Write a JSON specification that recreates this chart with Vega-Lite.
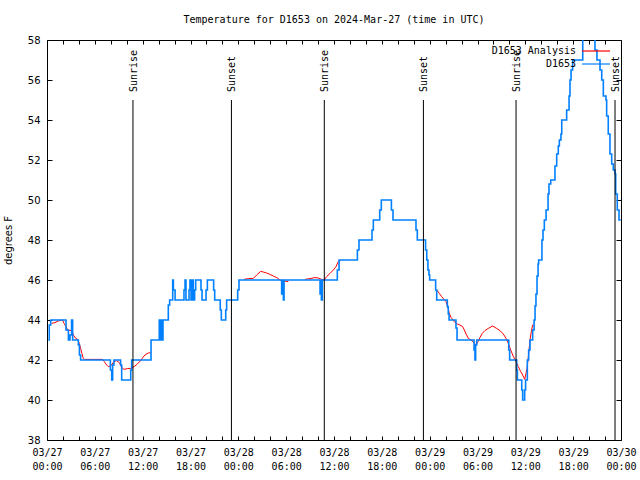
{
  "$schema": "https://vega.github.io/schema/vega-lite/v6.json",
  "width": 574,
  "height": 400,
  "autosize": {"type": "none"},
  "padding": {"left": 47, "top": 40, "right": 19, "bottom": 40},
  "background": "white",
  "title": {"text": "Temperature for D1653 on 2024-Mar-27 (time in UTC)", "font": "DejaVu Sans Mono", "fontSize": 10, "fontWeight": "normal", "color": "black", "offset": 10},
  "config": {
    "view": {"stroke": "black", "strokeWidth": 1},
    "axis": {"grid": false, "domain": false, "tickColor": "black", "labelColor": "black", "titleColor": "black"}
  },
  "datasets": {
    "blue": [
      {"t": "2024-03-27T00:10:00Z", "v": 43.0},
      {"t": "2024-03-27T00:17:00Z", "v": 43.75},
      {"t": "2024-03-27T00:28:00Z", "v": 44.0},
      {"t": "2024-03-27T02:23:00Z", "v": 43.5},
      {"t": "2024-03-27T02:41:00Z", "v": 43.0},
      {"t": "2024-03-27T02:53:00Z", "v": 43.25},
      {"t": "2024-03-27T03:05:00Z", "v": 44.0},
      {"t": "2024-03-27T03:13:00Z", "v": 43.0},
      {"t": "2024-03-27T03:56:00Z", "v": 42.75},
      {"t": "2024-03-27T04:04:00Z", "v": 42.25},
      {"t": "2024-03-27T04:13:00Z", "v": 42.0},
      {"t": "2024-03-27T07:57:00Z", "v": 41.5},
      {"t": "2024-03-27T08:07:00Z", "v": 41.0},
      {"t": "2024-03-27T08:14:00Z", "v": 41.75},
      {"t": "2024-03-27T08:24:00Z", "v": 42.0},
      {"t": "2024-03-27T09:14:00Z", "v": 41.75},
      {"t": "2024-03-27T09:22:00Z", "v": 41.0},
      {"t": "2024-03-27T10:30:00Z", "v": 41.5},
      {"t": "2024-03-27T10:37:00Z", "v": 42.0},
      {"t": "2024-03-27T13:03:00Z", "v": 43.0},
      {"t": "2024-03-27T14:05:00Z", "v": 44.0},
      {"t": "2024-03-27T14:16:00Z", "v": 43.0},
      {"t": "2024-03-27T14:20:00Z", "v": 44.0},
      {"t": "2024-03-27T14:28:00Z", "v": 43.0},
      {"t": "2024-03-27T14:33:00Z", "v": 44.0},
      {"t": "2024-03-27T15:13:00Z", "v": 44.75},
      {"t": "2024-03-27T15:23:00Z", "v": 45.0},
      {"t": "2024-03-27T15:46:00Z", "v": 46.0},
      {"t": "2024-03-27T15:51:00Z", "v": 45.5},
      {"t": "2024-03-27T16:04:00Z", "v": 45.0},
      {"t": "2024-03-27T17:11:00Z", "v": 45.5},
      {"t": "2024-03-27T17:19:00Z", "v": 46.0},
      {"t": "2024-03-27T17:26:00Z", "v": 45.0},
      {"t": "2024-03-27T17:49:00Z", "v": 45.5},
      {"t": "2024-03-27T17:56:00Z", "v": 46.0},
      {"t": "2024-03-27T18:04:00Z", "v": 45.0},
      {"t": "2024-03-27T18:14:00Z", "v": 46.0},
      {"t": "2024-03-27T18:21:00Z", "v": 45.0},
      {"t": "2024-03-27T18:31:00Z", "v": 45.5},
      {"t": "2024-03-27T18:39:00Z", "v": 46.0},
      {"t": "2024-03-27T19:19:00Z", "v": 45.5},
      {"t": "2024-03-27T19:27:00Z", "v": 45.0},
      {"t": "2024-03-27T19:57:00Z", "v": 45.5},
      {"t": "2024-03-27T20:07:00Z", "v": 46.0},
      {"t": "2024-03-27T20:54:00Z", "v": 45.5},
      {"t": "2024-03-27T21:02:00Z", "v": 45.0},
      {"t": "2024-03-27T21:44:00Z", "v": 44.5},
      {"t": "2024-03-27T21:52:00Z", "v": 44.0},
      {"t": "2024-03-27T22:25:00Z", "v": 44.5},
      {"t": "2024-03-27T22:32:00Z", "v": 45.0},
      {"t": "2024-03-27T23:55:00Z", "v": 45.5},
      {"t": "2024-03-28T00:05:00Z", "v": 46.0},
      {"t": "2024-03-28T05:26:00Z", "v": 45.3},
      {"t": "2024-03-28T05:34:00Z", "v": 46.0},
      {"t": "2024-03-28T05:39:00Z", "v": 45.0},
      {"t": "2024-03-28T05:44:00Z", "v": 46.0},
      {"t": "2024-03-28T10:15:00Z", "v": 45.3},
      {"t": "2024-03-28T10:20:00Z", "v": 46.0},
      {"t": "2024-03-28T10:25:00Z", "v": 45.0},
      {"t": "2024-03-28T10:32:00Z", "v": 46.0},
      {"t": "2024-03-28T12:25:00Z", "v": 46.5},
      {"t": "2024-03-28T12:38:00Z", "v": 47.0},
      {"t": "2024-03-28T14:56:00Z", "v": 47.5},
      {"t": "2024-03-28T15:08:00Z", "v": 48.0},
      {"t": "2024-03-28T16:46:00Z", "v": 48.5},
      {"t": "2024-03-28T16:56:00Z", "v": 49.0},
      {"t": "2024-03-28T17:44:00Z", "v": 49.5},
      {"t": "2024-03-28T17:56:00Z", "v": 50.0},
      {"t": "2024-03-28T19:12:00Z", "v": 49.5},
      {"t": "2024-03-28T19:24:00Z", "v": 49.0},
      {"t": "2024-03-28T22:17:00Z", "v": 48.5},
      {"t": "2024-03-28T22:27:00Z", "v": 48.0},
      {"t": "2024-03-28T23:29:00Z", "v": 47.5},
      {"t": "2024-03-28T23:38:00Z", "v": 47.0},
      {"t": "2024-03-28T23:47:00Z", "v": 46.5},
      {"t": "2024-03-28T23:55:00Z", "v": 46.25},
      {"t": "2024-03-29T00:00:00Z", "v": 46.0},
      {"t": "2024-03-29T00:45:00Z", "v": 45.5},
      {"t": "2024-03-29T00:53:00Z", "v": 45.0},
      {"t": "2024-03-29T02:13:00Z", "v": 44.67},
      {"t": "2024-03-29T02:20:00Z", "v": 44.3},
      {"t": "2024-03-29T02:26:00Z", "v": 44.0},
      {"t": "2024-03-29T03:18:00Z", "v": 43.6},
      {"t": "2024-03-29T03:26:00Z", "v": 43.0},
      {"t": "2024-03-29T05:34:00Z", "v": 42.5},
      {"t": "2024-03-29T05:41:00Z", "v": 42.0},
      {"t": "2024-03-29T05:46:00Z", "v": 42.75},
      {"t": "2024-03-29T05:54:00Z", "v": 43.0},
      {"t": "2024-03-29T09:55:00Z", "v": 42.5},
      {"t": "2024-03-29T10:02:00Z", "v": 42.0},
      {"t": "2024-03-29T10:55:00Z", "v": 41.5},
      {"t": "2024-03-29T11:00:00Z", "v": 41.0},
      {"t": "2024-03-29T11:33:00Z", "v": 40.5},
      {"t": "2024-03-29T11:40:00Z", "v": 40.0},
      {"t": "2024-03-29T11:55:00Z", "v": 40.5},
      {"t": "2024-03-29T12:02:00Z", "v": 41.0},
      {"t": "2024-03-29T12:15:00Z", "v": 42.0},
      {"t": "2024-03-29T12:25:00Z", "v": 42.5},
      {"t": "2024-03-29T12:35:00Z", "v": 43.0},
      {"t": "2024-03-29T12:55:00Z", "v": 43.5},
      {"t": "2024-03-29T13:06:00Z", "v": 44.0},
      {"t": "2024-03-29T13:13:00Z", "v": 44.7},
      {"t": "2024-03-29T13:20:00Z", "v": 45.3},
      {"t": "2024-03-29T13:28:00Z", "v": 46.2},
      {"t": "2024-03-29T13:36:00Z", "v": 46.8},
      {"t": "2024-03-29T13:40:00Z", "v": 47.0},
      {"t": "2024-03-29T14:05:00Z", "v": 48.0},
      {"t": "2024-03-29T14:13:00Z", "v": 48.5},
      {"t": "2024-03-29T14:23:00Z", "v": 49.0},
      {"t": "2024-03-29T14:36:00Z", "v": 49.5},
      {"t": "2024-03-29T14:51:00Z", "v": 50.3},
      {"t": "2024-03-29T14:58:00Z", "v": 50.8},
      {"t": "2024-03-29T15:11:00Z", "v": 51.0},
      {"t": "2024-03-29T15:43:00Z", "v": 51.7},
      {"t": "2024-03-29T15:56:00Z", "v": 52.3},
      {"t": "2024-03-29T16:08:00Z", "v": 52.7},
      {"t": "2024-03-29T16:16:00Z", "v": 53.0},
      {"t": "2024-03-29T16:28:00Z", "v": 53.3},
      {"t": "2024-03-29T16:34:00Z", "v": 54.0},
      {"t": "2024-03-29T17:11:00Z", "v": 54.5},
      {"t": "2024-03-29T17:29:00Z", "v": 55.2},
      {"t": "2024-03-29T17:36:00Z", "v": 56.0},
      {"t": "2024-03-29T17:44:00Z", "v": 56.5},
      {"t": "2024-03-29T17:56:00Z", "v": 57.0},
      {"t": "2024-03-29T19:12:00Z", "v": 58.6},
      {"t": "2024-03-29T20:44:00Z", "v": 57.5},
      {"t": "2024-03-29T20:59:00Z", "v": 57.0},
      {"t": "2024-03-29T21:22:00Z", "v": 56.5},
      {"t": "2024-03-29T21:35:00Z", "v": 56.0},
      {"t": "2024-03-29T21:47:00Z", "v": 55.2},
      {"t": "2024-03-29T22:07:00Z", "v": 55.0},
      {"t": "2024-03-29T22:12:00Z", "v": 54.2},
      {"t": "2024-03-29T22:24:00Z", "v": 53.3},
      {"t": "2024-03-29T22:37:00Z", "v": 52.3},
      {"t": "2024-03-29T22:50:00Z", "v": 51.8},
      {"t": "2024-03-29T23:02:00Z", "v": 51.5},
      {"t": "2024-03-29T23:15:00Z", "v": 51.3},
      {"t": "2024-03-29T23:20:00Z", "v": 50.3},
      {"t": "2024-03-29T23:32:00Z", "v": 49.5},
      {"t": "2024-03-29T23:45:00Z", "v": 49.0},
      {"t": "2024-03-29T23:58:00Z", "v": 49.0}
    ],
    "red": [
      {"seg": 1, "t": "2024-03-27T00:35:00Z", "v": 43.83},
      {"seg": 1, "t": "2024-03-27T01:00:00Z", "v": 43.87},
      {"seg": 1, "t": "2024-03-27T01:25:00Z", "v": 43.95},
      {"seg": 1, "t": "2024-03-27T01:58:00Z", "v": 44.0},
      {"seg": 1, "t": "2024-03-27T02:08:00Z", "v": 43.83},
      {"seg": 1, "t": "2024-03-27T02:23:00Z", "v": 43.67},
      {"seg": 1, "t": "2024-03-27T02:35:00Z", "v": 43.5},
      {"seg": 1, "t": "2024-03-27T03:06:00Z", "v": 43.47},
      {"seg": 1, "t": "2024-03-27T03:18:00Z", "v": 43.25},
      {"seg": 1, "t": "2024-03-27T03:36:00Z", "v": 43.08},
      {"seg": 1, "t": "2024-03-27T03:51:00Z", "v": 43.03},
      {"seg": 1, "t": "2024-03-27T04:03:00Z", "v": 42.83},
      {"seg": 1, "t": "2024-03-27T04:13:00Z", "v": 42.58},
      {"seg": 1, "t": "2024-03-27T04:23:00Z", "v": 42.33},
      {"seg": 1, "t": "2024-03-27T04:33:00Z", "v": 42.08},
      {"seg": 1, "t": "2024-03-27T04:41:00Z", "v": 42.03},
      {"seg": 1, "t": "2024-03-27T06:59:00Z", "v": 42.03},
      {"seg": 1, "t": "2024-03-27T07:11:00Z", "v": 41.92},
      {"seg": 1, "t": "2024-03-27T07:29:00Z", "v": 41.75},
      {"seg": 1, "t": "2024-03-27T07:41:00Z", "v": 41.67},
      {"seg": 1, "t": "2024-03-27T07:59:00Z", "v": 41.7},
      {"seg": 1, "t": "2024-03-27T08:24:00Z", "v": 41.92},
      {"seg": 1, "t": "2024-03-27T08:44:00Z", "v": 41.97},
      {"seg": 1, "t": "2024-03-27T09:04:00Z", "v": 41.87},
      {"seg": 1, "t": "2024-03-27T09:22:00Z", "v": 41.63},
      {"seg": 1, "t": "2024-03-27T09:40:00Z", "v": 41.53},
      {"seg": 1, "t": "2024-03-27T10:04:00Z", "v": 41.57},
      {"seg": 1, "t": "2024-03-27T10:30:00Z", "v": 41.58},
      {"seg": 1, "t": "2024-03-27T10:45:00Z", "v": 41.63},
      {"seg": 1, "t": "2024-03-27T11:02:00Z", "v": 41.7},
      {"seg": 1, "t": "2024-03-27T11:20:00Z", "v": 41.8},
      {"seg": 1, "t": "2024-03-27T11:35:00Z", "v": 41.9},
      {"seg": 1, "t": "2024-03-27T11:53:00Z", "v": 42.05},
      {"seg": 1, "t": "2024-03-27T12:10:00Z", "v": 42.2},
      {"seg": 1, "t": "2024-03-27T12:25:00Z", "v": 42.28},
      {"seg": 1, "t": "2024-03-27T12:42:00Z", "v": 42.35},
      {"seg": 1, "t": "2024-03-27T13:00:00Z", "v": 42.37},
      {"seg": 2, "t": "2024-03-28T00:43:00Z", "v": 46.03},
      {"seg": 2, "t": "2024-03-28T01:15:00Z", "v": 46.07},
      {"seg": 2, "t": "2024-03-28T01:53:00Z", "v": 46.08},
      {"seg": 2, "t": "2024-03-28T02:18:00Z", "v": 46.25},
      {"seg": 2, "t": "2024-03-28T02:48:00Z", "v": 46.43},
      {"seg": 2, "t": "2024-03-28T03:08:00Z", "v": 46.4},
      {"seg": 2, "t": "2024-03-28T03:33:00Z", "v": 46.35},
      {"seg": 2, "t": "2024-03-28T03:58:00Z", "v": 46.28},
      {"seg": 2, "t": "2024-03-28T04:23:00Z", "v": 46.2},
      {"seg": 2, "t": "2024-03-28T04:49:00Z", "v": 46.12},
      {"seg": 2, "t": "2024-03-28T05:14:00Z", "v": 46.0},
      {"seg": 2, "t": "2024-03-28T05:38:00Z", "v": 45.95},
      {"seg": 2, "t": "2024-03-28T06:16:00Z", "v": 45.92},
      {"seg": 3, "t": "2024-03-28T08:22:00Z", "v": 46.03},
      {"seg": 3, "t": "2024-03-28T08:59:00Z", "v": 46.07},
      {"seg": 3, "t": "2024-03-28T09:37:00Z", "v": 46.12},
      {"seg": 3, "t": "2024-03-28T10:02:00Z", "v": 46.1},
      {"seg": 3, "t": "2024-03-28T10:27:00Z", "v": 46.03},
      {"seg": 3, "t": "2024-03-28T10:45:00Z", "v": 46.0},
      {"seg": 3, "t": "2024-03-28T11:05:00Z", "v": 46.17},
      {"seg": 3, "t": "2024-03-28T11:30:00Z", "v": 46.33},
      {"seg": 3, "t": "2024-03-28T11:55:00Z", "v": 46.5},
      {"seg": 3, "t": "2024-03-28T12:15:00Z", "v": 46.67},
      {"seg": 3, "t": "2024-03-28T12:32:00Z", "v": 46.92},
      {"seg": 3, "t": "2024-03-28T12:50:00Z", "v": 46.97},
      {"seg": 4, "t": "2024-03-29T00:53:00Z", "v": 45.5},
      {"seg": 4, "t": "2024-03-29T01:13:00Z", "v": 45.33},
      {"seg": 4, "t": "2024-03-29T01:30:00Z", "v": 45.17},
      {"seg": 4, "t": "2024-03-29T01:48:00Z", "v": 45.03},
      {"seg": 4, "t": "2024-03-29T02:03:00Z", "v": 44.92},
      {"seg": 4, "t": "2024-03-29T02:16:00Z", "v": 44.67},
      {"seg": 4, "t": "2024-03-29T02:28:00Z", "v": 44.33},
      {"seg": 4, "t": "2024-03-29T02:41:00Z", "v": 44.13},
      {"seg": 4, "t": "2024-03-29T02:53:00Z", "v": 44.03},
      {"seg": 4, "t": "2024-03-29T03:11:00Z", "v": 43.87},
      {"seg": 4, "t": "2024-03-29T03:28:00Z", "v": 43.8},
      {"seg": 4, "t": "2024-03-29T03:48:00Z", "v": 43.75},
      {"seg": 4, "t": "2024-03-29T04:08:00Z", "v": 43.67},
      {"seg": 4, "t": "2024-03-29T04:21:00Z", "v": 43.5},
      {"seg": 4, "t": "2024-03-29T04:34:00Z", "v": 43.3},
      {"seg": 4, "t": "2024-03-29T04:51:00Z", "v": 43.08},
      {"seg": 4, "t": "2024-03-29T05:11:00Z", "v": 43.0},
      {"seg": 4, "t": "2024-03-29T05:34:00Z", "v": 42.87},
      {"seg": 4, "t": "2024-03-29T05:49:00Z", "v": 42.75},
      {"seg": 4, "t": "2024-03-29T06:04:00Z", "v": 42.92},
      {"seg": 4, "t": "2024-03-29T06:19:00Z", "v": 43.13},
      {"seg": 4, "t": "2024-03-29T06:36:00Z", "v": 43.33},
      {"seg": 4, "t": "2024-03-29T06:56:00Z", "v": 43.47},
      {"seg": 4, "t": "2024-03-29T07:21:00Z", "v": 43.58},
      {"seg": 4, "t": "2024-03-29T07:54:00Z", "v": 43.7},
      {"seg": 4, "t": "2024-03-29T08:24:00Z", "v": 43.58},
      {"seg": 4, "t": "2024-03-29T08:49:00Z", "v": 43.47},
      {"seg": 4, "t": "2024-03-29T09:14:00Z", "v": 43.3},
      {"seg": 4, "t": "2024-03-29T09:35:00Z", "v": 43.08},
      {"seg": 4, "t": "2024-03-29T09:52:00Z", "v": 42.83},
      {"seg": 4, "t": "2024-03-29T10:10:00Z", "v": 42.5},
      {"seg": 4, "t": "2024-03-29T10:30:00Z", "v": 42.17},
      {"seg": 4, "t": "2024-03-29T10:50:00Z", "v": 41.92},
      {"seg": 4, "t": "2024-03-29T11:07:00Z", "v": 41.67},
      {"seg": 4, "t": "2024-03-29T11:25:00Z", "v": 41.42},
      {"seg": 4, "t": "2024-03-29T11:40:00Z", "v": 41.25},
      {"seg": 4, "t": "2024-03-29T11:55:00Z", "v": 41.03},
      {"seg": 4, "t": "2024-03-29T12:05:00Z", "v": 41.33},
      {"seg": 4, "t": "2024-03-29T12:13:00Z", "v": 41.58},
      {"seg": 4, "t": "2024-03-29T12:20:00Z", "v": 42.0},
      {"seg": 4, "t": "2024-03-29T12:28:00Z", "v": 42.5},
      {"seg": 4, "t": "2024-03-29T12:35:00Z", "v": 43.0},
      {"seg": 4, "t": "2024-03-29T12:45:00Z", "v": 43.42},
      {"seg": 4, "t": "2024-03-29T12:55:00Z", "v": 43.75},
      {"seg": 4, "t": "2024-03-29T13:05:00Z", "v": 43.8}
    ],
    "sun": [
      {"t": "2024-03-27T10:47:00Z", "label": "Sunrise"},
      {"t": "2024-03-27T23:08:00Z", "label": "Sunset"},
      {"t": "2024-03-28T10:47:00Z", "label": "Sunrise"},
      {"t": "2024-03-28T23:13:00Z", "label": "Sunset"},
      {"t": "2024-03-29T10:50:00Z", "label": "Sunrise"},
      {"t": "2024-03-29T23:15:00Z", "label": "Sunset"}
    ]
  },
  "resolve": {"axis": {"x": "independent", "y": "independent"}},
  "layer": [
    {
      "data": {"name": "red"},
      "mark": {"type": "line", "strokeWidth": 1, "clip": true},
      "encoding": {
        "x": {"field": "t", "type": "temporal",
          "scale": {"type": "utc", "domain": [1711497600000, 1711756800000]},
          "axis": {"orient": "bottom", "title": null, "tickSize": -4,
            "values": [1711497600000, 1711504800000, 1711512000000, 1711519200000, 1711526400000, 1711533600000, 1711540800000, 1711548000000, 1711555200000, 1711562400000, 1711569600000, 1711576800000, 1711584000000, 1711591200000, 1711598400000, 1711605600000, 1711612800000, 1711620000000, 1711627200000, 1711634400000, 1711641600000, 1711648800000, 1711656000000, 1711663200000, 1711670400000, 1711677600000, 1711684800000, 1711692000000, 1711699200000, 1711706400000, 1711713600000, 1711720800000, 1711728000000, 1711735200000, 1711742400000, 1711749600000, 1711756800000],
            "labelExpr": "utchours(datum.value) % 6 == 0 ? [utcFormat(datum.value, '%m/%d'), utcFormat(datum.value, '%H:%M')] : ''",
            "labelOverlap": false, "labelFlush": false, "labelBound": false, "labelPadding": 11,
            "labelFont": "DejaVu Sans Mono", "labelFontSize": 10, "labelLineHeight": 14, "labelBaseline": "top"}},
        "y": {"field": "v", "type": "quantitative",
          "scale": {"domain": [38, 58], "nice": false, "zero": false},
          "axis": {"orient": "left", "values": [38, 40, 42, 44, 46, 48, 50, 52, 54, 56, 58], "tickSize": -5, "labelPadding": 12, "labelOverlap": false,
            "labelFont": "DejaVu Sans", "labelFontSize": 10,
            "title": "degrees F", "titleFont": "DejaVu Sans", "titleFontSize": 10, "titleFontWeight": "normal", "titlePadding": 14}},
        "detail": {"field": "seg", "type": "nominal"},
        "stroke": {"datum": "D1653 Analysis", "type": "nominal",
          "scale": {"domain": ["D1653 Analysis"], "range": ["#ff0000"]},
          "legend": {"orient": "none", "legendX": 534, "legendY": -4, "title": null, "symbolType": "stroke", "symbolSize": 784, "symbolStrokeWidth": 1.2,
            "labelAlign": "right", "labelOffset": -35, "labelFont": "DejaVu Sans Mono", "labelFontSize": 10, "labelColor": "black"}}
      }
    },
    {
      "data": {"name": "blue"},
      "mark": {"type": "line", "strokeWidth": 1.6, "interpolate": "step-after", "clip": true},
      "encoding": {
        "x": {"field": "t", "type": "temporal",
          "axis": {"orient": "top", "title": null, "labels": false, "tickSize": -4,
            "values": [1711497600000, 1711504800000, 1711512000000, 1711519200000, 1711526400000, 1711533600000, 1711540800000, 1711548000000, 1711555200000, 1711562400000, 1711569600000, 1711576800000, 1711584000000, 1711591200000, 1711598400000, 1711605600000, 1711612800000, 1711620000000, 1711627200000, 1711634400000, 1711641600000, 1711648800000, 1711656000000, 1711663200000, 1711670400000, 1711677600000, 1711684800000, 1711692000000, 1711699200000, 1711706400000, 1711713600000, 1711720800000, 1711728000000, 1711735200000, 1711742400000, 1711749600000, 1711756800000]}},
        "y": {"field": "v", "type": "quantitative",
          "axis": {"orient": "right", "title": null, "labels": false, "tickSize": -5, "values": [38, 40, 42, 44, 46, 48, 50, 52, 54, 56, 58]}},
        "color": {"datum": "D1653", "type": "nominal",
          "scale": {"domain": ["D1653"], "range": ["#0080ff"]},
          "legend": {"orient": "none", "legendX": 534, "legendY": 9, "title": null, "symbolType": "stroke", "symbolSize": 784, "symbolStrokeWidth": 1.2,
            "labelAlign": "right", "labelOffset": -35, "labelFont": "DejaVu Sans Mono", "labelFontSize": 10, "labelColor": "black"}}
      }
    },
    {
      "data": {"name": "sun"},
      "mark": {"type": "rule", "color": "black", "strokeWidth": 1},
      "encoding": {
        "x": {"field": "t", "type": "temporal", "axis": null},
        "y": {"datum": 55, "type": "quantitative", "axis": null},
        "y2": {"datum": 38}
      }
    },
    {
      "data": {"name": "sun"},
      "mark": {"type": "text", "angle": 270, "align": "left", "baseline": "middle", "dx": 8, "dy": 1, "font": "DejaVu Sans Mono", "fontSize": 10, "color": "black"},
      "encoding": {
        "x": {"field": "t", "type": "temporal", "axis": null},
        "y": {"datum": 55, "type": "quantitative", "axis": null},
        "text": {"field": "label"}
      }
    }
  ]
}
